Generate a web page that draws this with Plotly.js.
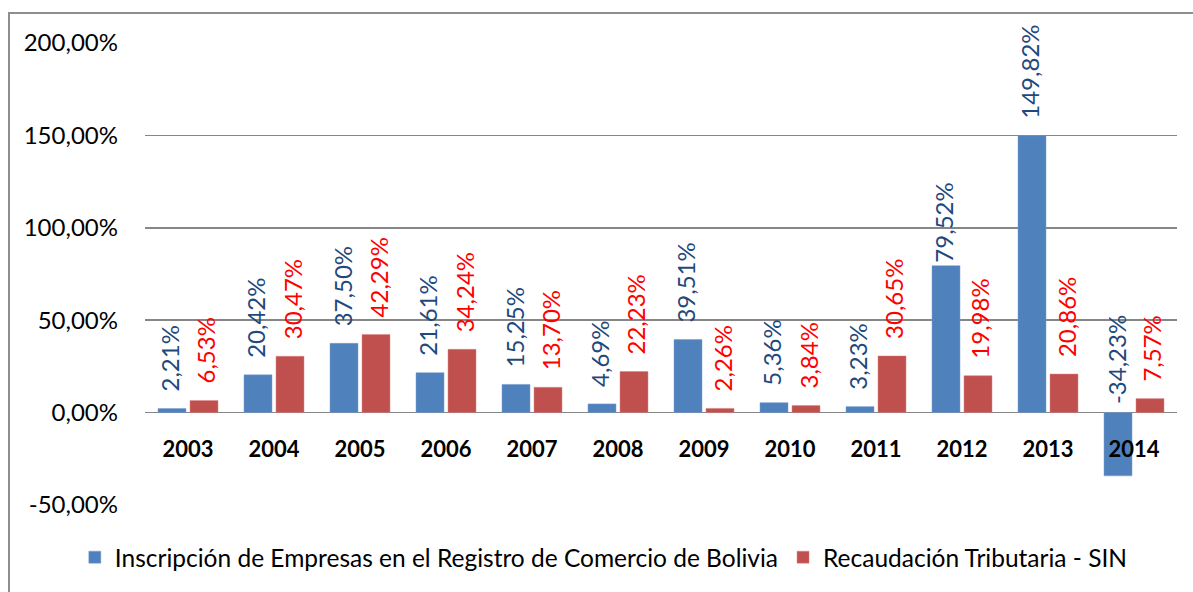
<!DOCTYPE html>
<html>
<head>
<meta charset="utf-8">
<script src="https://cdn.plot.ly/plotly-3.0.1.min.js"></script>
<style>
  html, body { margin: 0; padding: 0; background: #fff; overflow: hidden; }
  #frame { position: absolute; left: 8px; top: 12px; width: 1200px; height: 600px;
           border: 2px solid #8e8e8e; box-sizing: border-box; pointer-events: none; }
  #chart { width: 1193px; height: 592px; }
</style>
</head>
<body>
<div id="chart"></div>
<div id="frame"></div>
<script>
// variación anual (%)
const anios = ["2003", "2004", "2005", "2006", "2007", "2008", "2009", "2010", "2011", "2012", "2013", "2014"];
const inscripcion = [2.21, 20.42, 37.5, 21.61, 15.25, 4.69, 39.51, 5.36, 3.23, 79.52, 149.82, -34.23];
const recaudacion = [6.53, 30.47, 42.29, 34.24, 13.7, 22.23, 2.26, 3.84, 30.65, 19.98, 20.86, 7.57];
const yTicks = [-50, 0, 50, 100, 150, 200];
const yTickText = ["-50,00%", "0,00%", "50,00%", "100,00%", "150,00%", "200,00%"];

const AZUL = "#4F81BD", ROJO = "#C0504D";
const FONT = "Lato, 'Open Sans', sans-serif";

const fmt = (v) => v.toFixed(2).replace(".", ",") + "%";

// etiquetas giradas encima de cada barra (como en Excel)
const GAP = 15;
const ajustes = { "inscripcion-2012": 1, "inscripcion-2014": 6 };

function etiquetas(vals, serie, color, dx) {
  // x como índice de categoría: un "2003" en texto se leería como número
  return vals.map((v, i) => ({
    x: i, y: Math.max(v, 0), xref: "x", yref: "y",
    text: fmt(v), showarrow: false, textangle: -90,
    xanchor: "center", yanchor: "bottom",
    xshift: dx, yshift: ajustes[serie + "-" + anios[i]] ?? GAP,
    font: { family: FONT, size: 24, color: color },
  }));
}

const traces = [
  {
    x: anios, y: inscripcion, type: "bar",
    name: "Inscripción de Empresas en el Registro de Comercio de Bolivia",
    marker: { color: AZUL, line: { color: "#7a9fd0", width: 0.5 } },
    hoverinfo: "x+y",
  },
  {
    x: anios, y: recaudacion, type: "bar",
    name: "Recaudación Tributaria - SIN",
    marker: { color: ROJO, line: { color: "#d88584", width: 0.5 } },
    hoverinfo: "x+y",
  },
];

Plotly.newPlot("chart", traces, {
  width: 1193, height: 592,
  margin: { l: 145, r: 16, t: 43, b: 87 },
  paper_bgcolor: "#fff", plot_bgcolor: "#fff",
  font: { family: FONT, size: 24, color: "#000" },
  barmode: "group", bargap: 0.256, bargroupgap: 0.125,
  xaxis: {
    type: "category", range: [-0.5, anios.length - 0.5],
    anchor: "free", position: 0.2,
    showline: false, showgrid: false, ticks: "",
    tickfont: { family: FONT, size: 22, weight: "bold", color: "#000" },
    ticklabelstandoff: 21,
  },
  yaxis: {
    range: [-50, 200], tickvals: yTicks, ticktext: yTickText,
    showgrid: true, gridcolor: "#868686", gridwidth: 1.5,
    zeroline: true, zerolinecolor: "#868686", zerolinewidth: 1.5,
    showline: false, ticks: "", ticklabelstandoff: 26,
    tickfont: { family: FONT, size: 24, color: "#000" },
  },
  showlegend: true,
  legend: {
    orientation: "h", x: -0.068, xanchor: "left", y: -0.113, yanchor: "middle",
    font: { family: FONT, size: 24.5, color: "#000" },
    traceorder: "normal",
  },
  annotations: [
    ...etiquetas(inscripcion, "inscripcion", "#1F497D", -18),
    ...etiquetas(recaudacion, "recaudacion", "#FF0000", 18),
  ],
}, { displayModeBar: false, staticPlot: true });
</script>
</body>
</html>
